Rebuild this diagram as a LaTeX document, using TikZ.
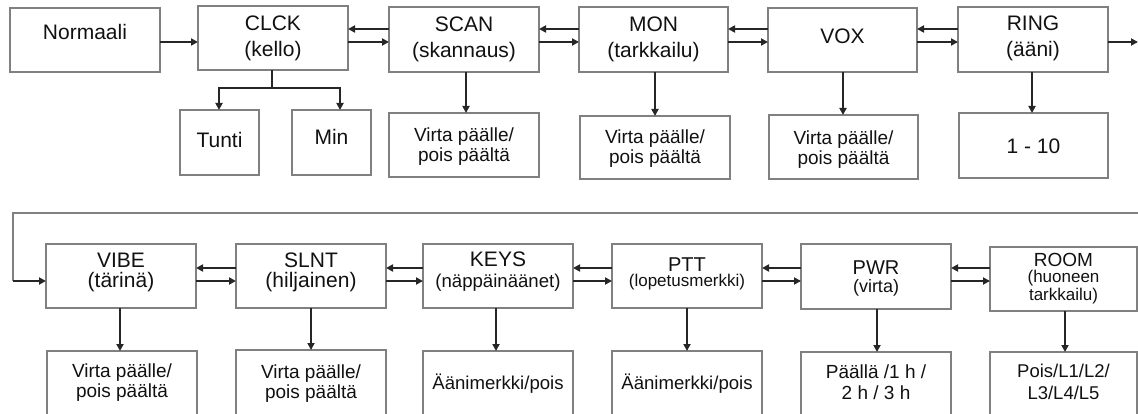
\documentclass[tikz,border=0pt]{standalone}
\usepackage{fontspec}
\setmainfont{Liberation Sans}
\usetikzlibrary{arrows.meta}
\definecolor{bordergray}{HTML}{808080}
\definecolor{arrowdark}{HTML}{262626}
\definecolor{txt}{HTML}{111111}
\newcommand\tl[3]{\vtop{\fontsize{#1}{#2}\selectfont\baselineskip=#2pt\lineskiplimit=-\maxdimen\halign{\hfil##\hfil\cr#3\crcr}}}
\newcommand\sz[1]{\fontsize{#1}{#1}\selectfont}
\newcommand\bx[7]{\pgfmathsetmacro\bw{#4-#2}\pgfmathsetmacro\bth{#6-#3}\pgfmathsetmacro\btd{#5-#6}%
  \node[bx, minimum width=\bw pt, text height=\bth pt, text depth=\btd pt] (#1) at (#2,#3) {#7};}
\newcommand\pair[4]{%
  \draw[arr] (#2.west |- 0,#3) -- (#1.east |- 0,#3);
  \draw[arr] (#1.east |- 0,#4) -- (#2.west |- 0,#4);}
\newcommand\down[3]{\draw[arr] (#1.south -| #3,0) -- (#2.north -| #3,0);}
\tikzset{
  bx/.style={draw=bordergray, line width=1.2pt, anchor=north west, inner sep=0pt, outer sep=0pt, text=txt},
  arr/.style={draw=arrowdark, line width=2pt, -{Triangle[length=7pt,width=7pt]}},
  plain/.style={draw=arrowdark, line width=2pt},
  loopline/.style={draw=bordergray, line width=1.3pt},
}
\begin{document}
\begin{tikzpicture}[x=1pt,y=-1pt]
\useasboundingbox (0,0) rectangle (1138,414);
\clip (0,0) rectangle (1138,414);
% top row
\bx{norm}{10}{8}{160}{72}{40}{\tl{21}{26}{Normaali}}
\bx{clck}{198}{6}{348}{70}{31}{\tl{21}{26}{CLCK\cr(kello)}}
\bx{scan}{389}{7}{539}{72}{32}{\tl{21}{26}{SCAN\cr(skannaus)}}
\bx{mon}{579}{7}{728}{72}{32}{\tl{21}{26}{MON\cr(tarkkailu)}}
\bx{vox}{768}{8}{917}{72}{44}{\tl{21}{26}{VOX}}
\bx{ring}{958}{7}{1108}{72}{31}{\tl{21}{26}{RING\cr(ääni)}}
% top subs
\bx{tunti}{180}{110}{259}{175}{148}{\tl{21}{26}{Tunti}}
\bx{min}{292}{110}{371}{175}{145}{\tl{21}{26}{Min}}
\bx{scansub}{389}{113}{539}{177}{142}{\tl{19}{19.5}{Virta päälle/\cr pois päältä}}
\bx{monsub}{580}{116}{730}{179}{144}{\tl{19}{19.5}{Virta päälle/\cr pois päältä}}
\bx{voxsub}{769}{115}{918}{179}{145}{\tl{19}{19.5}{Virta päälle/\cr pois päältä}}
\bx{ringsub}{959}{113}{1108}{178}{154}{\tl{21}{26}{1 - 10}}
% bottom row
\bx{vibe}{46}{244}{196}{308}{268}{\tl{21}{20}{VIBE\cr(tärinä)}}
\bx{slnt}{236}{244}{386}{308}{268}{\tl{21}{20}{SLNT\cr(hiljainen)}}
\bx{keys}{423}{244}{573}{308}{266}{\tl{21}{21}{KEYS\cr\sz{18.6}(näppäinäänet)}}
\bx{ptt}{612}{244}{762}{308}{271}{\tl{20}{16}{PTT\cr\sz{17}(lopetusmerkki)}}
\bx{pwr}{801}{244}{951}{309}{274}{\tl{20}{18}{PWR\cr\sz{18}(virta)}}
\bx{room}{990}{247}{1137}{311}{266}{\tl{19}{17}{ROOM\cr\sz{17}(huoneen\cr\sz{17}tarkkailu)}}
% bottom subs
\bx{vibesub}{47}{351}{197}{440}{377}{\tl{19}{20}{Virta päälle/\cr pois päältä}}
\bx{slntsub}{236}{350}{386}{440}{378}{\tl{19}{20}{Virta päälle/\cr pois päältä}}
\bx{keyssub}{423}{351}{573}{440}{389}{\tl{18.6}{20}{Äänimerkki/pois}}
\bx{pttsub}{612}{351}{762}{440}{389}{\tl{18.6}{20}{Äänimerkki/pois}}
\bx{pwrsub}{801}{352}{951}{440}{378}{\tl{19}{21}{Päällä /1 h /\cr 2 h / 3 h}}
\bx{roomsub}{990}{352}{1137}{440}{377}{\tl{18.5}{22}{Pois/L1/L2/\cr L3/L4/L5}}
% top connectors
\draw[arr] (norm.east |- 0,42) -- (clck.west |- 0,42);
\pair{clck}{scan}{29}{42}
\pair{scan}{mon}{29}{42}
\pair{mon}{vox}{29}{42}
\pair{vox}{ring}{29}{42}
\coordinate (ringout) at (1138,42);
\draw[arr] (ring.east |- ringout) -- (ringout);
\coordinate (clkj) at (272,88);
\draw[plain] (clck.south -| clkj) -- (clkj);
\draw[arr] (clkj) -| (tunti.north -| 219,0);
\draw[arr] (clkj) -| (min.north -| 340,0);
\down{scan}{scansub}{466}
\down{mon}{monsub}{655}
\down{vox}{voxsub}{843}
\down{ring}{ringsub}{1032}
% loop
\coordinate (loopR) at (1138,213);
\coordinate (loopL) at (13,213);
\coordinate (loopB) at (13,281);
\draw[loopline] (loopR) -- (loopL) -- (loopB);
\draw[arr] (loopB) -- (vibe.west |- loopB);
% bottom connectors
\pair{vibe}{slnt}{268}{281}
\pair{slnt}{keys}{268}{281}
\pair{keys}{ptt}{268}{281}
\pair{ptt}{pwr}{268}{281}
\pair{pwr}{room}{268}{281}
\down{vibe}{vibesub}{120}
\down{slnt}{slntsub}{311}
\down{keys}{keyssub}{496}
\down{ptt}{pttsub}{687}
\down{pwr}{pwrsub}{877}
\down{room}{roomsub}{1065}
\end{tikzpicture}
\end{document}
